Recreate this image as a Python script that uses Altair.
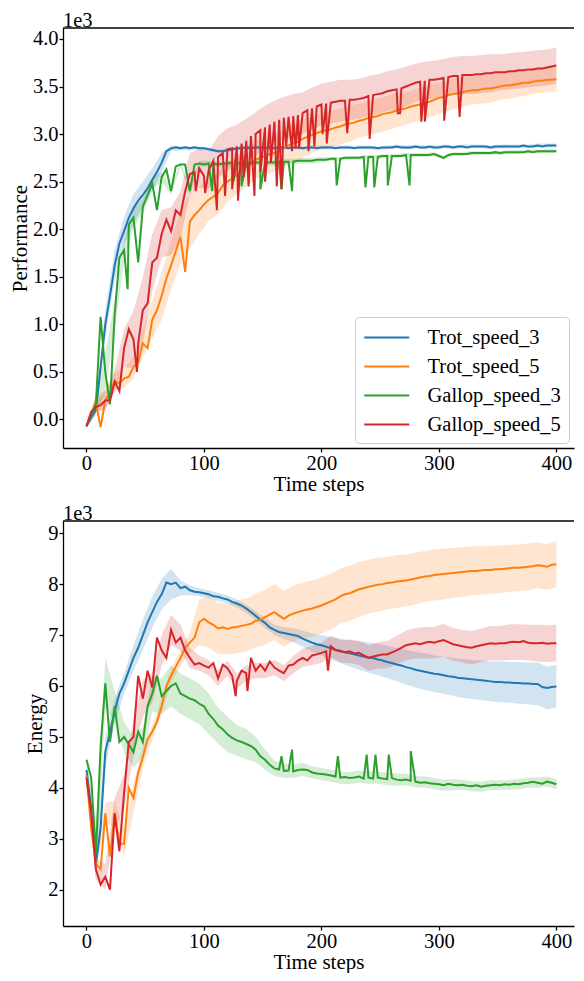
import altair as alt
import pandas as pd

F = "Liberation Serif"
SERIES = ["Trot_speed_3", "Trot_speed_5", "Gallop_speed_3", "Gallop_speed_5"]
COLORS = ["#1f77b4", "#ff7f0e", "#2ca02c", "#d62728"]
X_TICKS = [0, 100, 200, 300, 400]
PERF_TICKS = [0.0, 0.5, 1.0, 1.5, 2.0, 2.5, 3.0, 3.5, 4.0]
ENERGY_TICKS = [2, 3, 4, 5, 6, 7, 8, 9]

T_LINE = list(range(0, 401, 4))   # time steps of the line samples
T_BAND = list(range(0, 401, 8))   # time steps of the band samples

# ---------------- Performance (x1e3) ----------------
P_TROT3 = [-0.07, 0.02, 0.10, 0.55, 1.00, 1.30, 1.62, 1.85, 1.98, 2.12,
           2.22, 2.30, 2.36, 2.43, 2.52, 2.60, 2.70, 2.82, 2.85, 2.86,
           2.85, 2.86, 2.85, 2.86, 2.85, 2.85, 2.84, 2.83, 2.82, 2.82,
           2.83, 2.84, 2.85, 2.85, 2.86, 2.85, 2.86, 2.86, 2.85, 2.86,
           2.85, 2.86, 2.86, 2.85, 2.86, 2.86, 2.85, 2.86, 2.86, 2.85,
           2.86, 2.86, 2.86, 2.85, 2.86, 2.86, 2.86, 2.85, 2.86, 2.86,
           2.86, 2.86, 2.85, 2.86, 2.86, 2.86, 2.87, 2.86, 2.86, 2.86,
           2.87, 2.86, 2.86, 2.87, 2.86, 2.86, 2.87, 2.87, 2.86, 2.87,
           2.87, 2.86, 2.87, 2.87, 2.87, 2.87, 2.86, 2.87, 2.87, 2.87,
           2.87, 2.87, 2.87, 2.88, 2.87, 2.87, 2.88, 2.87, 2.88, 2.88,
           2.88]
P_TROT5 = [-0.07, 0.05, 0.18, -0.08, 0.20, 0.28, 0.40, 0.38, 0.43, 0.45,
           0.55, 0.60, 0.80, 0.75, 1.05, 1.15, 1.30, 1.48, 1.62, 1.77,
           1.92, 1.55, 2.08, 2.15, 2.20, 2.26, 2.31, 2.34, 2.38, 2.46,
           2.50, 2.53, 2.57, 2.61, 2.65, 2.70, 2.73, 2.75, 2.77, 2.79,
           2.80, 2.82, 2.86, 2.88, 2.90, 2.92, 2.95, 2.97, 2.99, 3.01,
           3.03, 3.04, 3.05, 3.07, 3.08, 3.10, 3.11, 3.12, 3.14, 3.15,
           3.17, 3.18, 3.19, 3.21, 3.22, 3.23, 3.25, 3.26, 3.27, 3.29,
           3.30, 3.31, 3.33, 3.34, 3.36, 3.38, 3.39, 3.41, 3.42, 3.43,
           3.44, 3.45, 3.46, 3.46, 3.47, 3.48, 3.48, 3.49, 3.50, 3.51,
           3.51, 3.52, 3.53, 3.54, 3.54, 3.55, 3.56, 3.56, 3.57, 3.57,
           3.58]
P_GALLOP3 = [-0.07, 0.05, 0.16, 1.08, 0.50, 0.16, 1.10, 1.70, 1.78, 2.05,
             2.12, 1.65, 2.24, 2.36, 2.48, 2.20, 2.55, 2.63, 2.40, 2.66,
             2.68, 2.68, 2.40, 2.68, 2.69, 2.68, 2.69, 2.69, 2.68, 2.69,
             2.69, 2.70, 2.69, 2.70, 2.70, 2.69, 2.70, 2.70, 2.70, 2.70,
             2.70, 2.71, 2.71, 2.71, 2.71, 2.72, 2.72, 2.72, 2.72, 2.73,
             2.73, 2.73, 2.74, 2.74, 2.74, 2.75, 2.75, 2.75, 2.75, 2.76,
             2.76, 2.76, 2.76, 2.77, 2.77, 2.77, 2.77, 2.77, 2.78, 2.78,
             2.78, 2.78, 2.78, 2.78, 2.79, 2.77, 2.75, 2.78, 2.79, 2.79,
             2.79, 2.79, 2.80, 2.80, 2.80, 2.80, 2.80, 2.81, 2.80, 2.81,
             2.81, 2.81, 2.81, 2.81, 2.82, 2.81, 2.82, 2.82, 2.82, 2.82,
             2.82]
P_GALLOP5 = [-0.07, 0.08, 0.13, 0.15, 0.20, 0.20, 0.40, 0.30, 0.75, 0.95,
             0.84, 0.80, 1.15, 1.22, 1.65, 1.70, 1.95, 2.10, 1.98, 2.20,
             2.15, 2.40, 2.58, 2.60, 2.64, 2.56, 2.62, 2.72, 2.76, 2.80,
             2.84, 2.85, 2.87, 2.90, 2.93, 2.98, 3.00, 3.04, 3.07, 3.10,
             3.13, 3.15, 3.17, 3.18, 3.19, 3.20, 3.22, 3.25, 3.27, 3.29,
             3.31, 3.32, 3.33, 3.34, 3.35, 3.35, 3.36, 3.36, 3.37, 3.38,
             3.40, 3.41, 3.42, 3.43, 3.45, 3.46, 3.47, 3.48, 3.50, 3.52,
             3.54, 3.55, 3.56, 3.57, 3.57, 3.58, 3.59, 3.60, 3.61, 3.61,
             3.62, 3.62, 3.62, 3.63, 3.63, 3.64, 3.64, 3.65, 3.65, 3.65,
             3.66, 3.66, 3.67, 3.67, 3.68, 3.68, 3.69, 3.69, 3.70, 3.71,
             3.72]

# band half-widths (at T_BAND)
P_HW_TROT3 = [0.02, 0.05, 0.15, 0.16, 0.15, 0.15, 0.14, 0.12, 0.10, 0.03,
              0.02, 0.02, 0.02, 0.02, 0.02, 0.02, 0.02, 0.02, 0.02, 0.02,
              0.02, 0.02, 0.02, 0.02, 0.02, 0.02, 0.02, 0.02, 0.02, 0.02,
              0.02, 0.02, 0.02, 0.02, 0.02, 0.02, 0.02, 0.02, 0.02, 0.02,
              0.02, 0.02, 0.02, 0.02, 0.02, 0.02, 0.02, 0.02, 0.02, 0.02,
              0.02]
P_HW_TROT5 = [0.02, 0.08, 0.10, 0.10, 0.10, 0.12, 0.15, 0.20, 0.25, 0.25,
              0.28, 0.28, 0.25, 0.22, 0.22, 0.21, 0.20, 0.20, 0.20, 0.20,
              0.20, 0.20, 0.20, 0.20, 0.19, 0.19, 0.19, 0.19, 0.19, 0.18,
              0.18, 0.18, 0.18, 0.18, 0.17, 0.17, 0.17, 0.17, 0.16, 0.16,
              0.16, 0.15, 0.15, 0.15, 0.14, 0.14, 0.14, 0.13, 0.13, 0.13,
              0.13]
P_HW_GALLOP3 = [0.02, 0.10, 0.20, 0.15, 0.12, 0.10, 0.08, 0.06, 0.05, 0.04,
                0.03, 0.03, 0.03, 0.03, 0.03, 0.03, 0.03, 0.03, 0.03, 0.03,
                0.03, 0.03, 0.03, 0.03, 0.03, 0.03, 0.02, 0.02, 0.02, 0.02,
                0.02, 0.02, 0.02, 0.02, 0.02, 0.02, 0.02, 0.02, 0.02, 0.02,
                0.02, 0.02, 0.02, 0.02, 0.02, 0.02, 0.02, 0.02, 0.02, 0.02,
                0.02]
P_HW_GALLOP5 = [0.02, 0.05, 0.10, 0.12, 0.20, 0.30, 0.35, 0.30, 0.25, 0.25,
                0.25, 0.22, 0.20, 0.20, 0.22, 0.22, 0.23, 0.23, 0.23, 0.23,
                0.22, 0.22, 0.23, 0.22, 0.22, 0.22, 0.22, 0.22, 0.21, 0.21,
                0.21, 0.21, 0.21, 0.21, 0.21, 0.20, 0.20, 0.20, 0.20, 0.20,
                0.20, 0.20, 0.20, 0.20, 0.19, 0.19, 0.19, 0.19, 0.19, 0.19,
                0.19]

# sharp dips (time step, value)
P_SPK_TROT3 = []
P_SPK_TROT5 = []
P_SPK_GALLOP3 = [(35, 1.37), (107, 2.40), (125, 2.50), (132, 2.45), (148, 2.42),
                 (166, 2.42), (175, 2.40), (213, 2.46), (237.5, 2.44), (245, 2.44),
                 (256.5, 2.46), (275, 2.46)]
P_SPK_GALLOP5 = [(43, 0.50), (93, 2.40), (101, 2.38), (111, 2.20), (118, 2.35),
                 (124, 2.42), (129, 2.30), (134, 2.55), (138, 2.45), (143, 2.35),
                 (148, 2.60), (152, 2.50), (157, 2.70), (162, 2.45), (166, 2.42),
                 (170, 2.87), (175, 2.82), (178, 2.85), (181, 2.85), (189, 2.82),
                 (194, 2.87), (201, 3.00), (204.5, 2.90), (222, 3.01), (241, 2.95),
                 (265, 3.22), (267, 3.22), (285, 3.13), (288, 3.13), (304.5, 3.14),
                 (317.6, 3.18)]

# ---------------- Energy (x1e3) ----------------
E_TROT3 = [4.35, 3.60, 2.50, 3.20, 4.70, 5.10, 5.50, 5.85, 6.05, 6.30,
           6.55, 6.75, 7.00, 7.25, 7.45, 7.65, 7.80, 8.03, 8.00, 8.03,
           7.92, 7.95, 7.88, 7.85, 7.84, 7.82, 7.80, 7.76, 7.75, 7.72,
           7.70, 7.65, 7.62, 7.58, 7.52, 7.45, 7.38, 7.30, 7.24, 7.15,
           7.10, 7.06, 7.04, 7.02, 7.00, 6.98, 6.93, 6.89, 6.85, 6.82,
           6.80, 6.77, 6.74, 6.71, 6.69, 6.66, 6.64, 6.62, 6.60, 6.58,
           6.56, 6.55, 6.52, 6.50, 6.47, 6.45, 6.42, 6.40, 6.37, 6.35,
           6.32, 6.30, 6.28, 6.26, 6.24, 6.23, 6.21, 6.19, 6.18, 6.16,
           6.15, 6.14, 6.13, 6.12, 6.11, 6.10, 6.09, 6.08, 6.08, 6.07,
           6.07, 6.06, 6.06, 6.05, 6.05, 6.04, 6.04, 5.98, 5.96, 5.98,
           5.99]
E_TROT5 = [4.25, 3.20, 2.50, 2.40, 3.50, 2.65, 3.50, 2.90, 2.90, 4.00,
           3.80, 4.30, 4.60, 4.95, 5.10, 5.30, 5.60, 6.00, 6.20, 6.38,
           6.55, 6.75, 6.85, 6.95, 7.25, 7.32, 7.25, 7.20, 7.13, 7.15,
           7.12, 7.15, 7.16, 7.18, 7.20, 7.22, 7.28, 7.30, 7.35, 7.40,
           7.45, 7.38, 7.32, 7.38, 7.42, 7.45, 7.48, 7.50, 7.52, 7.55,
           7.58, 7.62, 7.66, 7.70, 7.76, 7.80, 7.82, 7.86, 7.90, 7.92,
           7.95, 7.97, 7.99, 8.00, 8.02, 8.03, 8.05, 8.06, 8.07, 8.09,
           8.11, 8.13, 8.15, 8.16, 8.18, 8.19, 8.20, 8.21, 8.22, 8.23,
           8.24, 8.25, 8.26, 8.26, 8.27, 8.28, 8.28, 8.29, 8.29, 8.30,
           8.31, 8.32, 8.32, 8.33, 8.34, 8.35, 8.37, 8.36, 8.34, 8.38,
           8.39]
E_GALLOP3 = [4.55, 4.20, 2.70, 4.80, 6.05, 4.90, 5.60, 4.90, 5.00, 4.85,
             4.70, 5.10, 4.90, 5.60, 5.85, 6.20, 5.80, 5.90, 6.00, 6.05,
             5.85, 5.80, 5.75, 5.72, 5.65, 5.60, 5.45, 5.35, 5.22, 5.15,
             5.05, 4.98, 4.93, 4.90, 4.86, 4.82, 4.75, 4.62, 4.55, 4.45,
             4.38, 4.36, 4.33, 4.34, 4.32, 4.35, 4.36, 4.35, 4.30, 4.28,
             4.27, 4.26, 4.24, 4.22, 4.20, 4.21, 4.19, 4.20, 4.22, 4.18,
             4.20, 4.18, 4.20, 4.18, 4.17, 4.19, 4.16, 4.15, 4.16, 4.14,
             4.12, 4.10, 4.11, 4.09, 4.08, 4.07, 4.05, 4.08, 4.06, 4.05,
             4.06, 4.04, 4.03, 4.05, 4.02, 4.04, 4.05, 4.06, 4.05, 4.07,
             4.06, 4.08, 4.07, 4.09, 4.10, 4.12, 4.10, 4.08, 4.12, 4.10,
             4.07]
E_GALLOP5 = [4.20, 3.50, 2.40, 2.10, 2.25, 2.00, 3.50, 2.75, 3.90, 4.90,
             5.00, 6.20, 5.75, 6.30, 5.97, 6.95, 6.70, 6.55, 7.10, 6.85,
             6.95, 6.70, 6.55, 6.42, 6.45, 6.40, 6.36, 6.45, 6.15, 6.42,
             6.35, 6.20, 6.10, 6.30, 6.25, 6.55, 6.30, 6.42, 6.30, 6.48,
             6.36, 6.30, 6.25, 6.40, 6.42, 6.50, 6.55, 6.50, 6.60, 6.62,
             6.65, 6.68, 6.78, 6.70, 6.68, 6.66, 6.68, 6.64, 6.65, 6.60,
             6.55, 6.58, 6.60, 6.62, 6.62, 6.66, 6.70, 6.75, 6.80, 6.82,
             6.84, 6.82, 6.85, 6.87, 6.85, 6.88, 6.90, 6.86, 6.82, 6.80,
             6.78, 6.76, 6.75, 6.78, 6.80, 6.82, 6.84, 6.83, 6.84, 6.84,
             6.86, 6.87, 6.86, 6.88, 6.85, 6.84, 6.84, 6.85, 6.83, 6.84,
             6.84]

E_HW_TROT3 = [0.05, 0.20, 0.30, 0.25, 0.20, 0.25, 0.30, 0.30, 0.30, 0.30,
              0.15, 0.10, 0.08, 0.08, 0.08, 0.08, 0.08, 0.08, 0.09, 0.10,
              0.10, 0.12, 0.14, 0.16, 0.18, 0.20, 0.22, 0.24, 0.26, 0.28,
              0.30, 0.31, 0.32, 0.33, 0.34, 0.35, 0.36, 0.36, 0.37, 0.37,
              0.38, 0.38, 0.39, 0.39, 0.40, 0.40, 0.41, 0.41, 0.42, 0.42,
              0.42]
E_HW_TROT5 = [0.05, 0.15, 0.20, 0.25, 0.25, 0.30, 0.20, 0.15, 0.15, 0.15,
              0.15, 0.20, 0.45, 0.50, 0.50, 0.50, 0.52, 0.52, 0.53, 0.54,
              0.55, 0.55, 0.55, 0.55, 0.55, 0.55, 0.55, 0.54, 0.54, 0.54,
              0.53, 0.53, 0.52, 0.52, 0.51, 0.51, 0.50, 0.50, 0.50, 0.49,
              0.49, 0.48, 0.48, 0.47, 0.47, 0.46, 0.46, 0.46, 0.45, 0.45,
              0.45]
E_HW_GALLOP3 = [0.10, 0.50, 0.50, 0.30, 0.30, 0.30, 0.30, 0.35, 0.35, 0.40,
                0.40, 0.40, 0.40, 0.40, 0.35, 0.35, 0.30, 0.30, 0.25, 0.20,
                0.15, 0.14, 0.13, 0.13, 0.12, 0.12, 0.12, 0.12, 0.12, 0.12,
                0.12, 0.12, 0.12, 0.12, 0.11, 0.11, 0.11, 0.11, 0.11, 0.11,
                0.10, 0.10, 0.10, 0.10, 0.10, 0.10, 0.10, 0.10, 0.10, 0.10,
                0.10]
E_HW_GALLOP5 = [0.05, 0.20, 0.25, 0.30, 0.35, 0.35, 0.35, 0.30, 0.30, 0.30,
                0.25, 0.20, 0.15, 0.15, 0.15, 0.15, 0.15, 0.15, 0.15, 0.15,
                0.15, 0.16, 0.17, 0.18, 0.19, 0.20, 0.21, 0.22, 0.23, 0.24,
                0.25, 0.26, 0.27, 0.28, 0.29, 0.30, 0.31, 0.31, 0.32, 0.32,
                0.32, 0.33, 0.33, 0.34, 0.34, 0.35, 0.35, 0.35, 0.36, 0.36,
                0.36]

E_SPK_TROT3 = []
E_SPK_TROT5 = []
E_SPK_GALLOP3 = [(166, 4.62), (175, 4.75), (214, 4.62), (238.5, 4.65),
                 (246, 4.65), (257.3, 4.65), (276, 4.72)]
E_SPK_GALLOP5 = [(127, 5.80), (137, 5.90), (205.6, 6.30)]


def build(means, hws, spikes):
    lines, bands = [], []
    for name, m, hw, sp in zip(SERIES, means, hws, spikes):
        assert len(m) == len(T_LINE) and len(hw) == len(T_BAND)
        for t, v in zip(T_LINE, m):
            lines.append({"series": name, "t": t, "v": v})
        for t, v in sp:
            lines.append({"series": name, "t": t, "v": v})
        for i, t in enumerate(T_BAND):
            c = m[2 * i]
            bands.append({"series": name, "t": t, "lo": c - hw[i], "hi": c + hw[i]})
    return pd.DataFrame(lines).sort_values(["series", "t"]), pd.DataFrame(bands)


perf_line, perf_band = build(
    [P_TROT3, P_TROT5, P_GALLOP3, P_GALLOP5],
    [P_HW_TROT3, P_HW_TROT5, P_HW_GALLOP3, P_HW_GALLOP5],
    [P_SPK_TROT3, P_SPK_TROT5, P_SPK_GALLOP3, P_SPK_GALLOP5])
en_line, en_band = build(
    [E_TROT3, E_TROT5, E_GALLOP3, E_GALLOP5],
    [E_HW_TROT3, E_HW_TROT5, E_HW_GALLOP3, E_HW_GALLOP5],
    [E_SPK_TROT3, E_SPK_TROT5, E_SPK_GALLOP3, E_SPK_GALLOP5])

W = 511
CSCALE = alt.Scale(domain=SERIES, range=COLORS)


def panel(line_df, band_df, ydom, yvals, yfmt, ytitle, H, legend):
    x = alt.X("t:Q", scale=alt.Scale(domain=[-20, 415], nice=False, zero=False),
              axis=alt.Axis(values=X_TICKS, format="d", title="Time steps"))
    yscale = alt.Scale(domain=ydom, nice=False, zero=False)
    yaxis = alt.Axis(values=yvals, format=yfmt, title=ytitle)
    band = alt.Chart(band_df).mark_area(opacity=0.2).encode(
        x=x, y=alt.Y("lo:Q", scale=yscale, axis=yaxis), y2="hi:Q",
        color=alt.Color("series:N", scale=CSCALE, legend=legend))
    layers = [band]
    for s in SERIES:
        layers.append(
            alt.Chart(line_df[line_df.series == s]).mark_line(strokeWidth=2).encode(
                x=x, y=alt.Y("v:Q", scale=yscale, axis=yaxis),
                color=alt.Color("series:N", scale=CSCALE, legend=legend)))
    one = pd.DataFrame({"a": [0]})
    spine = alt.Chart(one).mark_rule(color="black", strokeWidth=1.3).encode(
        x=alt.value(0), x2=alt.value(W), y=alt.value(0))
    label = alt.Chart(one).mark_text(text="1e3", align="left", baseline="alphabetic",
                                     font=F, fontSize=20.5, color="black").encode(
        x=alt.value(0), y=alt.value(-1.5))
    layers += [spine, label]
    return alt.layer(*layers).properties(width=W, height=H)


LEG = alt.Legend(title=None, orient="bottom-right", offset=5,
                 symbolType="M-1,0H3", symbolSize=506, symbolStrokeWidth=2,
                 symbolOpacity=1, labelOffset=39.5, labelFont=F, labelFontSize=20.5,
                 labelColor="black", padding=8, rowPadding=6, fillColor="white",
                 strokeColor="#cccccc", cornerRadius=4)

top = panel(perf_line, perf_band, [-0.30, 4.115], PERF_TICKS, ".1f", "Performance", 420, LEG)
bottom = panel(en_line, en_band, [1.285, 9.24], ENERGY_TICKS, "d", "Energy", 405, None)

chart = alt.vconcat(top, bottom, spacing=8).resolve_scale(
    color="independent").resolve_legend(color="independent").properties(
    padding={"left": 1, "top": 2, "right": 0, "bottom": 0}, background="white"
).configure_view(stroke=None).configure_axis(
    grid=False, domainColor="black", domainWidth=1.3, tickColor="black", tickSize=4,
    tickWidth=1.3, labelFont=F, labelFontSize=20.5, labelColor="black", labelPadding=1,
    titleFont=F, titleFontSize=21, titleFontWeight="normal", titleColor="black"
).configure_axisX(titlePadding=0).configure_axisY(titlePadding=2)

chart.save("out.html", embed_options={"renderer": "svg", "actions": False})
